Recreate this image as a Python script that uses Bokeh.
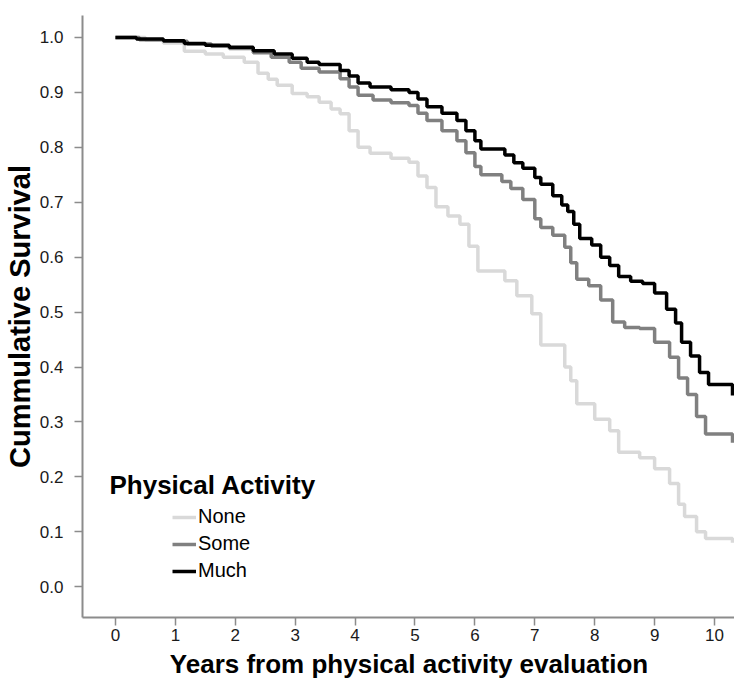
from bokeh.plotting import figure
from bokeh.models import Range1d, FixedTicker, PrintfTickFormatter, Label, Legend, LegendItem
from bokeh.embed import file_html
from bokeh.resources import INLINE

# ---- data ----
much_t = [0, 0.35, 0.8, 1.15, 1.5, 1.9, 2.3, 2.65, 2.95, 3.2, 3.4, 3.75, 3.9, 4.05, 4.25, 4.6, 4.9,
          5.05, 5.2, 5.45, 5.7, 5.85, 6.0, 6.1, 6.5, 6.65, 6.8, 7.0, 7.1, 7.3, 7.45, 7.55, 7.65,
          7.75, 7.95, 8.1, 8.25, 8.4, 8.6, 8.8, 9.0, 9.2, 9.35, 9.45, 9.6, 9.75, 9.9, 10.3]
much_s = [1.0, 0.997, 0.994, 0.989, 0.986, 0.982, 0.976, 0.970, 0.962, 0.955, 0.951, 0.940, 0.930,
          0.917, 0.910, 0.905, 0.900, 0.888, 0.874, 0.862, 0.849, 0.830, 0.812, 0.797, 0.786,
          0.772, 0.762, 0.745, 0.733, 0.712, 0.695, 0.683, 0.660, 0.634, 0.622, 0.600, 0.585,
          0.565, 0.556, 0.552, 0.535, 0.505, 0.480, 0.445, 0.420, 0.390, 0.368, 0.348]

some_t = [0, 0.4, 0.8, 1.2, 1.6, 1.9, 2.3, 2.6, 2.9, 3.1, 3.4, 3.75, 3.9, 4.05, 4.3, 4.6, 4.9,
          5.05, 5.2, 5.45, 5.7, 5.85, 6.0, 6.1, 6.45, 6.6, 6.8, 7.0, 7.1, 7.3, 7.5, 7.6, 7.7,
          7.9, 8.1, 8.3, 8.5, 8.75, 9.0, 9.25, 9.4, 9.55, 9.7, 9.85, 10.3]
some_s = [1.0, 0.996, 0.993, 0.988, 0.984, 0.980, 0.972, 0.964, 0.955, 0.944, 0.937, 0.925, 0.910,
          0.895, 0.886, 0.881, 0.876, 0.862, 0.849, 0.830, 0.812, 0.790, 0.765, 0.750, 0.738,
          0.725, 0.705, 0.670, 0.654, 0.640, 0.618, 0.590, 0.560, 0.548, 0.522, 0.482, 0.472,
          0.470, 0.445, 0.418, 0.380, 0.350, 0.310, 0.278, 0.262]

none_t = [0, 0.5, 0.8, 1.15, 1.5, 1.8, 2.15, 2.38, 2.55, 2.7, 2.95, 3.2, 3.4, 3.6, 3.75, 3.9, 4.05,
          4.25, 4.6, 4.9, 5.05, 5.2, 5.35, 5.55, 5.75, 5.9, 6.05, 6.5, 6.7, 6.95, 7.1, 7.5, 7.6,
          7.7, 8.0, 8.25, 8.4, 8.75, 9.0, 9.25, 9.4, 9.5, 9.7, 9.85, 10.3]
none_s = [1.0, 0.995, 0.990, 0.975, 0.970, 0.964, 0.955, 0.935, 0.924, 0.913, 0.898, 0.892, 0.882,
          0.870, 0.861, 0.830, 0.800, 0.789, 0.780, 0.773, 0.748, 0.727, 0.692, 0.675, 0.660,
          0.620, 0.575, 0.557, 0.530, 0.497, 0.440, 0.400, 0.375, 0.333, 0.305, 0.284, 0.245,
          0.235, 0.215, 0.188, 0.150, 0.128, 0.100, 0.088, 0.080]

x_ticks = [0, 1, 2, 3, 4, 5, 6, 7, 8, 9, 10]
y_ticks = [0.0, 0.1, 0.2, 0.3, 0.4, 0.5, 0.6, 0.7, 0.8, 0.9, 1.0]
group_names = ["None", "Some", "Much"]
group_colors = ["#d9d9d9", "#808080", "#000000"]

FONT = "Liberation Sans"

p = figure(width=734, height=686, output_backend="svg", toolbar_location=None,
           x_range=Range1d(-0.55, 10.35), y_range=Range1d(-0.056, 1.04),
           min_border_left=81, min_border_right=0, min_border_top=15, min_border_bottom=69)
p.frame_width = 653
p.frame_height = 602
p.outline_line_color = None
p.grid.visible = False
p.background_fill_color = "white"

renderers = []
for t, s, c in [(none_t, none_s, group_colors[0]), (some_t, some_s, group_colors[1]),
                (much_t, much_s, group_colors[2])]:
    r = p.step(t, s, mode="after", line_width=3.5, line_color=c)
    renderers.append(r)

# axes
for ax in (p.xaxis[0], p.yaxis[0]):
    ax.axis_line_color = "#8c8c8c"
    ax.axis_line_width = 2
    ax.major_tick_line_color = "#8c8c8c"
    ax.major_tick_line_width = 1.5
    ax.minor_tick_line_color = None
    ax.major_tick_out = 8
    ax.major_tick_in = 0
    ax.major_label_text_font = FONT
    ax.major_label_text_font_size = "17px"
    ax.major_label_text_color = "#1a1a1a"
    ax.axis_label_text_font = FONT
    ax.axis_label_text_font_style = "bold"
    ax.axis_label_text_color = "#000000"

p.xaxis[0].axis_label_text_font_size = "26px"
p.yaxis[0].axis_label_text_font_size = "29px"
p.xaxis[0].ticker = FixedTicker(ticks=x_ticks)
p.yaxis[0].ticker = FixedTicker(ticks=y_ticks)
p.yaxis[0].formatter = PrintfTickFormatter(format="%.1f")
p.xaxis[0].axis_label = "Years from physical activity evaluation"
p.yaxis[0].axis_label = "Cummulative Survival"
p.xaxis[0].major_label_standoff = 3
p.yaxis[0].major_label_standoff = 11
p.xaxis[0].axis_label_standoff = 5
p.yaxis[0].axis_label_standoff = 1

# legend
title = Label(x=-0.1, y=0.186, text="Physical Activity", text_font=FONT,
              text_font_style="bold", text_font_size="26px", text_baseline="middle",
              text_color="#000000")
p.add_layout(title)

items = [LegendItem(label=n, renderers=[r]) for n, r in zip(group_names, renderers)]
legend = Legend(items=items, location=(90, 35), border_line_color=None,
                background_fill_alpha=0, padding=0, margin=0, spacing=4,
                label_text_font=FONT, label_text_font_size="20px", label_height=22,
                glyph_height=22, glyph_width=24, label_standoff=2,
                label_text_color="#000000")
p.add_layout(legend, "center")

open("out.html", "w").write(file_html(p, INLINE))
